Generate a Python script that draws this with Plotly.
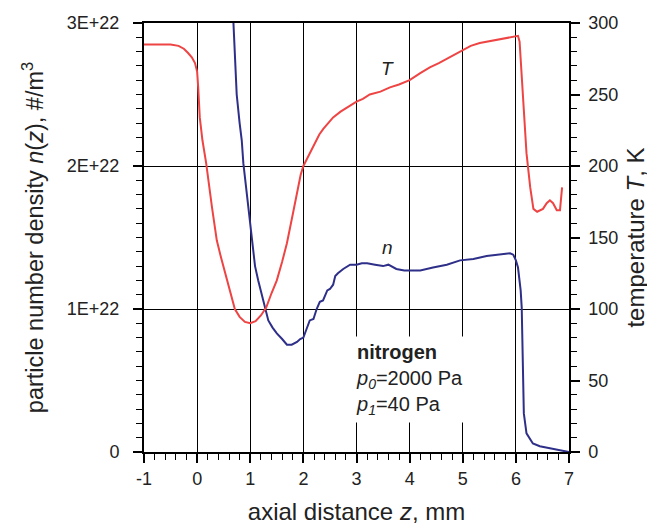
import plotly.graph_objects as go

# Temperature T (K) vs axial distance z (mm)
T_z = [-1.0, -0.5, -0.35, -0.25, -0.17, -0.1, -0.04, 0.0, 0.02, 0.05, 0.1, 0.17, 0.28, 0.37, 0.45, 0.52,
       0.6, 0.66, 0.71, 0.8, 0.9, 1.0, 1.1, 1.2, 1.3, 1.4, 1.5, 1.6, 1.69, 1.81, 1.95, 2.0, 2.08,
       2.16, 2.25, 2.3, 2.375, 2.46, 2.56, 2.7, 2.82, 3.0, 3.12, 3.25, 3.45, 3.63, 3.8, 4.0,
       4.2, 4.38, 4.55, 4.7, 4.85, 5.0, 5.15, 5.32, 5.48, 5.64, 5.8, 5.95, 6.04, 6.07, 6.1,
       6.15, 6.2, 6.27, 6.33, 6.4, 6.51, 6.58, 6.64, 6.7, 6.77, 6.83, 6.87]
T_vals = [285, 285, 284, 282, 279, 276, 272, 266, 255, 234, 218, 202, 171, 148, 136, 126,
          116, 107, 100, 94.5, 91, 90, 91.5, 95.5, 101, 111, 120, 133, 146, 168, 194, 200, 206,
          212, 218, 222, 226, 230, 234, 238, 241, 245, 247, 250, 252, 255, 257, 260,
          265, 269, 272, 275, 278, 281, 284, 286, 287, 288.5, 289, 290.4, 291, 287, 269,
          240, 209, 185, 170, 168, 170, 174, 176, 174, 169, 169, 185]

# Particle number density n (units of 1E22 #/m^3)
n_z = [0.68, 0.71, 0.745, 0.8, 0.84, 0.87, 0.93, 1.0, 1.09, 1.15, 1.22, 1.28, 1.34, 1.42, 1.5,
       1.6, 1.69, 1.78, 1.88, 1.94, 2.0, 2.06, 2.12, 2.19, 2.25, 2.31, 2.37, 2.45, 2.5, 2.56,
       2.6, 2.65, 2.75, 2.88, 3.0, 3.1, 3.2, 3.35, 3.5, 3.6, 3.75, 3.9, 4.0, 4.2, 4.44, 4.7,
       4.95, 5.2, 5.45, 5.7, 5.89, 5.95, 6.0, 6.04, 6.09, 6.11, 6.13, 6.15, 6.2, 6.32, 6.45,
       6.58, 6.75, 6.89, 7.0]
n_vals = [3.03, 2.8, 2.5, 2.3, 2.18, 2.02, 1.83, 1.58, 1.30, 1.20, 1.10, 1.02, 0.92, 0.87, 0.83,
          0.79, 0.75, 0.75, 0.77, 0.79, 0.80, 0.86, 0.92, 0.93, 1.00, 1.05, 1.06, 1.13, 1.14, 1.17,
          1.23, 1.25, 1.28, 1.31, 1.31, 1.32, 1.32, 1.31, 1.30, 1.31, 1.28, 1.27, 1.27, 1.27, 1.29, 1.31,
          1.34, 1.35, 1.37, 1.38, 1.39, 1.38, 1.34, 1.29, 1.13, 1.01, 0.62, 0.27, 0.13, 0.06, 0.04,
          0.03, 0.02, 0.01, 0.0]

x_tickvals = [-1, 0, 1, 2, 3, 4, 5, 6, 7]
x_ticktext = ["-1", "0", "1", "2", "3", "4", "5", "6", "7"]
y_tickvals = [0, 1e22, 2e22, 3e22]
y_ticktext = ["0", "1E+22", "2E+22", "3E+22"]
T_ticks = [0, 50, 100, 150, 200, 250, 300]

FONT = "Liberation Sans, Arial, sans-serif"
TXT = "#222222"
NB = "\u00a0"
TICK = "#000000"

fig = go.Figure()
fig.add_trace(go.Scatter(x=n_z, y=[v * 1e22 for v in n_vals], mode="lines",
                         line=dict(color="#2E2F88", width=2), yaxis="y", showlegend=False))
fig.add_trace(go.Scatter(x=T_z, y=T_vals, mode="lines",
                         line=dict(color="#EE4444", width=2), yaxis="y2", showlegend=False))

# the page body has an 8px margin, so the figure is 8px smaller than the window
fig.update_layout(
    width=647, height=517,
    margin=dict(l=136, r=86, t=15, b=73),
    paper_bgcolor="white", plot_bgcolor="white",
    font=dict(family=FONT, size=18, color=TXT),
    xaxis=dict(range=[-1, 7], tickmode="array", tickvals=x_tickvals, ticktext=x_ticktext,
               showgrid=True, gridcolor="black", gridwidth=1, automargin=False,
               zeroline=False, showline=True, linecolor="black", linewidth=2, mirror=True,
               ticks="outside", ticklen=9, tickcolor=TICK, tickwidth=1.5,
               minor=dict(dtick=0.2, ticks="outside", ticklen=6, tickcolor=TICK, tickwidth=1.3,
                          showgrid=False),
               title=dict(text="axial distance <i>z</i>, mm", font=dict(size=24), standoff=22),
               tickfont=dict(size=18)),
    yaxis=dict(range=[0, 3e22], tickmode="array", tickvals=y_tickvals,
               ticktext=[t + NB + NB for t in y_ticktext], showgrid=True,
               gridcolor="black", gridwidth=1, zeroline=False, showline=True, linecolor="black",
               linewidth=2, ticks="outside", ticklen=9, tickcolor=TICK, tickwidth=1.5,
               automargin=False,
               minor=dict(dtick=1e21, ticks="outside", ticklen=6, tickcolor=TICK, tickwidth=1.3,
                          showgrid=False),
               title=dict(text="particle number density <i>n</i>(<i>z</i>), #/m<sup>3</sup>",
                          font=dict(size=23.5), standoff=17),
               tickfont=dict(size=18)),
    yaxis2=dict(range=[0, 300], tickmode="array", tickvals=T_ticks,
                ticktext=[NB + str(t) for t in T_ticks],
                overlaying="y", side="right", showgrid=False,
                zeroline=False, showline=True, linecolor="black", linewidth=1.5, automargin=False,
                ticks="outside", ticklen=9, tickcolor=TICK, tickwidth=1.5,
                minor=dict(dtick=10, ticks="outside", ticklen=6, tickcolor=TICK, tickwidth=1.3,
                           showgrid=False),
                title=dict(text="temperature <i>T</i>, K", font=dict(size=24), standoff=10),
                tickfont=dict(size=18)),
)

fig.add_annotation(x=3.59, y=268, xref="x", yref="y2", text="<i>T</i>", showarrow=False,
                   font=dict(size=19, color=TXT))
fig.add_annotation(x=3.59, y=1.43e22, xref="x", yref="y", text="<i>n</i>", showarrow=False,
                   font=dict(size=19, color=TXT))
fig.add_annotation(x=2.9, y=0.505e22, xref="x", yref="y", xanchor="left", yanchor="middle",
                   align="left", showarrow=False, bgcolor="white", borderpad=4,
                   text="<b>nitrogen</b><br><i>p</i><sub><i>0</i></sub>=2000 Pa<br><i>p</i><sub><i>1</i></sub>=40 Pa",
                   font=dict(size=20, color=TXT))

fig.write_html("out.html")
